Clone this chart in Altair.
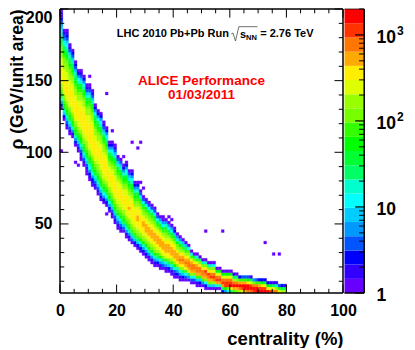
import altair as alt
import pandas as pd

LEVELS = list("0123456789abcdefghij")
COLORS = ["#6600ff", "#3300ff", "#0000ff", "#0055ff", "#0099ff", "#00ccff", "#00ffff", "#00ffcc", "#00ff66", "#00ff33",
          "#00ff00", "#33ff00", "#77ff00", "#99ff00", "#ddff00", "#ffee00", "#ffaa00", "#ff7700", "#ff3300", "#ff0000"]
BAR_EDGES = [1, 1.46, 2.14, 3.12, 4.57, 6.68, 9.77, 14.3, 20.9, 30.5, 44.7, 65.3, 95.5, 140, 204, 299, 437, 638, 934, 1367, 2000]

# lowest rho of each centrality column (1% wide), rho bins 2 wide
COL_LOW = [130, 122, 116, 112, 110, 104, 100, 94, 90, 84, 80, 76, 74, 70, 66, 64, 62, 58, 54, 50,
           46, 44, 44, 40, 38, 36, 34, 32, 30, 28, 26, 24, 22, 20, 20, 18, 18, 16, 16, 14,
           12, 12, 10, 10, 10, 10, 8, 8, 6, 6, 6, 4, 4, 4, 4, 4, 4, 2, 2, 2,
           2, 2, 2, 2, 2, 2, 2, 2, 2, 2, 2, 2, 2, 2, 2, 2, 2, 2, 2, 2]
# colour level of each rho bin in that column, from low rho upward
COL_CELLS = [
    "02468abcdeeffffeeeddccba98765432110", "02579abcdefffffeeeddccba98764310", "013579abcdeefffffeeeddccba987653210",
    "013579abcdeefffffeeddccba9875310", "01479abcdeefffffeeeddcba9875320", "02479abcdeefffffeeddcba9875320",
    "01358abcdeefffffeeddcba976420", "0013579abcdeeffffffeeddcba975310", "013579abcdeefffffffeeddcba976420",
    "0013579abcddeefffffeeddcba975310", "0124679abcdeefffffffeeeddcba975310", "0124689abcdeefffffffeeeddcba975310",
    "013579abcdeefffffeeddcba986420", "013579abcddeeffffeeddcba986420", "013579abcddeefffffeeddcba976420",
    "02468abcdeefffffeeddcba975310", "02468abcdeefffffeedcba976420", "02468abcdeefffeedcba97420",
    "01358abcdeeffffeedcba976420", "01358abcdeeffffeeddcba975310", "01357abcdeeffffeedcba97530",
    "01357abcdeeffffeedcba97530", "0358abcdeefffeedcba97420", "01479bcdeefffffeedcba976420",
    "01479bcdeefgffeedcba97530", "0358bcdeefffffeedcba976420", "0258bcdeefffeedcba97420",
    "0258bcdeffggffedcba97420", "0247acdefffffeedcb9630", "0247acdeffggfedcb9630",
    "0247acdefgggfedcb9630", "0147acdefgggfedcb9630", "0147acdefgggfedcb9630",
    "0147acdefgggfedcb9630", "0258bdefgggfedb9630", "0147adefgggfedb9740",
    "0358cefgggfedb9640", "0147befgggfedcb9740", "0258cefgggfedb9640",
    "0147bdfgggfedb9640", "0137adfgggfedb9520", "0247cfgggfdca740",
    "0147cfghgfdca740", "0258dfghgfdb850", "036bfghgfdb850",
    "048eghhgedb60", "037dghhgeb70", "036cghhfc80",
    "015bghhgeb70", "025bghhfc80", "04bghhfc70",
    "026cghifc70", "05cghifc70", "05cgihfc70",
    "05dhihec60", "07gihea0", "07gihea0",
    "28gihea0", "4aiihea0", "6ciihea0",
    "8ejihea0", "bgjhd81", "cgjhd80",
    "dhjgb2", "fijgb3", "gjjgb3",
    "hjjfa3", "hjie91", "ijhc4",
    "jjhb3", "jigb2", "jifa2",
    "jif92", "jfa2", "ie91",
    "he81", "hd71", "eb3",
    "d92", "d81",
]
# stray single-count cells (centrality, rho)
STRAY_X = [10, 16, 25, 28, 27, 18, 22, 5, 6, 0, 28, 29, 36, 38, 39, 16, 51, 57, 72, 75, 77]
STRAY_Y = [153, 141, 107, 107, 103, 115, 97, 93, 91, 101, 79, 75, 55, 55, 53, 57, 45, 45, 36, 29, 29]

X_MAJOR = [0, 20, 40, 60, 80, 100]
X_MINOR = [5, 10, 15, 25, 30, 35, 45, 50, 55, 65, 70, 75, 85, 90, 95]
Y_MAJOR = [50, 100, 150, 200]
Y_MINOR = [10, 20, 30, 40, 60, 70, 80, 90, 110, 120, 130, 140, 160, 170, 180, 190]
Z_MAJOR = [1, 10, 100, 1000]
Z_MINOR = [2, 3, 4, 5, 6, 7, 8, 9, 20, 30, 40, 50, 60, 70, 80, 90, 200, 300, 400, 500, 600, 700, 800, 900, 2000]
Z_TEXT = [(1, "1", ""), (10, "10", ""), (100, "10", "2"), (1000, "10", "3")]

FONT = "Liberation Sans"
W, H = 283, 284
XS = alt.Scale(domain=[0, 100], nice=False, zero=False)
YS = alt.Scale(domain=[1.8, 200], nice=False, zero=False)
ZS = alt.Scale(type="log", domain=[1, 2000], nice=False)
BS = alt.Scale(domain=[0, 1], range=[284.5, 304.2], nice=False, zero=False)
CS = alt.Scale(domain=LEVELS, range=COLORS)

cells = []
for i, (low, col) in enumerate(zip(COL_LOW, COL_CELLS)):
    for j, lv in enumerate(col):
        cells.append({"x": i, "x2": i + 1, "y": low + 2 * j, "y2": low + 2 * j + 2, "l": lv})
for sx, sy in zip(STRAY_X, STRAY_Y):
    b = sy - sy % 2
    cells.append({"x": sx, "x2": sx + 1, "y": b, "y2": b + 2, "l": "0"})
cells = pd.DataFrame(cells)

heat = alt.Chart(cells).mark_rect(strokeWidth=0.3).encode(
    x=alt.X("x:Q", scale=XS, axis=alt.Axis(title="centrality (%)", values=X_MAJOR, ticks=False, domain=False, grid=False,
            labelFont=FONT, labelFontWeight="bold", labelFontSize=16, labelColor="black", labelPadding=9, labelFlush=False,
            labelOverlap=False, format="d",
            titleFont=FONT, titleFontWeight="bold", titleFontSize=18.5, titleColor="black", titleAlign="right",
            titleX=W, titleY=51, titleBaseline="alphabetic")),
    x2="x2:Q",
    y=alt.Y("y:Q", scale=YS, axis=alt.Axis(title="\u03c1 (GeV/unit area)", values=Y_MAJOR, ticks=False, domain=False, grid=False,
            labelFont=FONT, labelFontWeight="bold", labelFontSize=16, labelColor="black", labelPadding=8, labelFlush=False,
            labelOverlap=False, format="d",
            labelBaseline={"condition": {"test": "datum.value == 200", "value": "top"}, "value": "middle"},
            titleFont=FONT, titleFontWeight="bold", titleFontSize=17.5, titleColor="black", titleAlign="left", titleAngle=-90,
            titleX=-38, titleY=140, titleBaseline="alphabetic")),
    y2="y2:Q",
    color=alt.Color("l:N", scale=CS, legend=None),
    stroke=alt.Stroke("l:N", scale=CS, legend=None),
)


def xtick(values, y0, y1, width):
    d = pd.DataFrame({"x": values, "y": y0, "y2": y1})
    return alt.Chart(d).mark_rule(color="black", strokeWidth=width).encode(
        x=alt.X("x:Q", scale=XS, axis=None), y=alt.Y("y:Q", scale=YS, axis=None), y2="y2:Q")


def ytick(values, x0, x1, width):
    d = pd.DataFrame({"y": values, "x": x0, "x2": x1})
    return alt.Chart(d).mark_rule(color="black", strokeWidth=width).encode(
        y=alt.Y("y:Q", scale=YS, axis=None), x=alt.X("x:Q", scale=XS, axis=None), x2="x2:Q")


ticks = [
    xtick(X_MAJOR, 1.8, 7.7, 1), xtick(X_MINOR, 1.8, 4.7, 1),
    xtick(X_MAJOR, 200, 194, 1), xtick(X_MINOR, 200, 197, 1),
    ytick(Y_MAJOR, 0, 3, 1), ytick(Y_MINOR, 0, 1.5, 1),
    ytick(Y_MAJOR, 100, 97, 1), ytick(Y_MINOR, 100, 98.5, 1),
]
frame = [
    xtick([0], 1.8, 200, 1.5), xtick([100], 1.8, 200, 1.5),
    ytick([1.8], 0, 100, 1.5), ytick([200], 0, 100, 1.5),
]

bar_df = pd.DataFrame({"z": BAR_EDGES[:-1], "z2": BAR_EDGES[1:], "l": LEVELS, "a": 0, "b": 1})
bar = alt.Chart(bar_df).mark_rect().encode(
    x=alt.X("a:Q", scale=BS, axis=None), x2="b:Q",
    y=alt.Y("z:Q", scale=ZS, axis=None), y2="z2:Q",
    color=alt.Color("l:N", scale=CS, legend=None),
)


def ztick(values, a, width):
    d = pd.DataFrame({"z": values, "a": a, "b": 1})
    return alt.Chart(d).mark_rule(color="black", strokeWidth=width).encode(
        x=alt.X("a:Q", scale=BS, axis=None), x2="b:Q", y=alt.Y("z:Q", scale=ZS, axis=None))


bar_frame = [
    alt.Chart(pd.DataFrame({"a": [1], "z": [1], "z2": [2000]})).mark_rule(color="black", strokeWidth=1.5).encode(
        x=alt.X("a:Q", scale=BS, axis=None), y=alt.Y("z:Q", scale=ZS, axis=None), y2="z2:Q"),
    alt.Chart(pd.DataFrame({"a": [0], "b": [1], "z": [1]})).mark_rule(color="black", strokeWidth=1.5).encode(
        x=alt.X("a:Q", scale=BS, axis=None), x2="b:Q", y=alt.Y("z:Q", scale=ZS, axis=None)),
    alt.Chart(pd.DataFrame({"a": [0], "b": [1], "z": [2000]})).mark_rule(color="black", strokeWidth=0.7).encode(
        x=alt.X("a:Q", scale=BS, axis=None), x2="b:Q", y=alt.Y("z:Q", scale=ZS, axis=None)),
]

z_df = pd.DataFrame(Z_TEXT, columns=["z", "base", "exp"])
z_base = alt.Chart(z_df).mark_text(font=FONT, fontWeight="bold", fontSize=17.5, color="black", align="left", baseline="middle", dy=3).encode(
    x=alt.value(316.5), y=alt.Y("z:Q", scale=ZS, axis=None), text="base:N")
z_exp = alt.Chart(z_df[z_df.exp != ""]).mark_text(font=FONT, fontWeight="bold", fontSize=12, color="black", align="left", baseline="middle", dy=-4).encode(
    x=alt.value(337), y=alt.Y("z:Q", scale=ZS, axis=None), text="exp:N")


def note(text, px, py, size, color="black", align="left"):
    d = pd.DataFrame({"t": [text]})
    return alt.Chart(d).mark_text(font=FONT, fontWeight="bold", fontSize=size, color=color, align=align, baseline="middle").encode(
        x=alt.value(px - 60.5), y=alt.value(py - 8), text="t:N")


def seg(x0, y0, x1, y1):
    d = pd.DataFrame({"k": [1]})
    return alt.Chart(d).mark_rule(color="#333333", strokeWidth=0.7).encode(
        x=alt.value(x0 - 60.5), x2=alt.value(x1 - 60.5), y=alt.value(y0 - 8), y2=alt.value(y1 - 8))


notes = [
    note("LHC 2010 Pb+Pb Run", 117.3, 32.7, 11),
    note("s", 240.5, 33.5, 11),
    note("NN", 246.5, 37, 7.5),
    note("= 2.76 TeV", 260.7, 32.7, 11),
    seg(231.7, 33, 233.5, 32), seg(233.5, 32, 236, 40), seg(236, 40, 239.3, 25.7), seg(239.3, 25.7, 258, 25.7),
    note("ALICE Performance", 202, 80, 13.5, "#ff0000", "center"),
    note("01/03/2011", 202, 93.5, 13.5, "#ff0000", "center"),
]

chart = alt.layer(
    heat, *ticks, *frame, bar, ztick(Z_MAJOR, 0.54, 1.2), ztick(Z_MINOR, 0.74, 1), *bar_frame, z_base, z_exp, *notes
).resolve_scale(x="independent", y="independent", color="independent", stroke="independent").properties(
    width=W, height=H, padding=0
).configure_view(stroke=None)

chart.save("out.html", embed_options={"renderer": "svg", "actions": False})
